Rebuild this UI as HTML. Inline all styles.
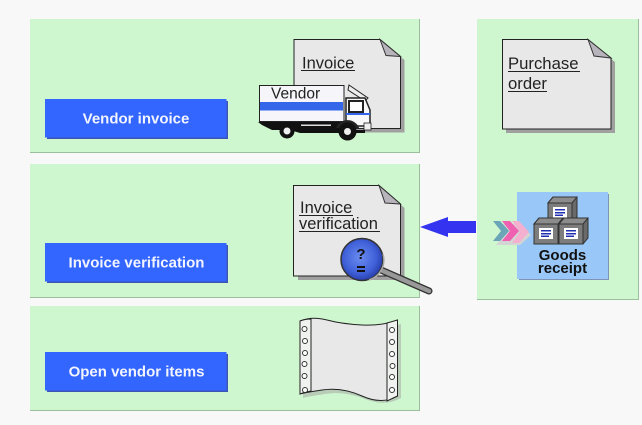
<!DOCTYPE html>
<html>
<head>
<meta charset="utf-8">
<style>
html,body{margin:0;padding:0;background:#f8f8f8;}
svg{display:block;}
text{font-family:"Liberation Sans",sans-serif;}
</style>
</head>
<body>
<svg width="642" height="425" viewBox="0 0 642 425" xmlns="http://www.w3.org/2000/svg">
<defs>
<radialGradient id="ball" cx="45%" cy="45%" r="60%">
  <stop offset="0" stop-color="#6a8cf0"/>
  <stop offset="0.65" stop-color="#3f5fd8"/>
  <stop offset="1" stop-color="#2236a0"/>
</radialGradient>
<g id="box">
  <path d="M0 0 L5 -6 H29 V14 L24 20 H0Z" fill="#6a6a6a" stroke="#333" stroke-width="1"/>
  <path d="M0 0 L5 -6 H29 L24 0Z" fill="#8c8c8c" stroke="#333" stroke-width="1"/>
  <rect x="0" y="0" width="24" height="20" fill="#7d7d7d" stroke="#333" stroke-width="1"/>
  <rect x="5" y="4" width="14" height="11" fill="#fff"/>
  <rect x="7" y="6" width="10" height="1.500" fill="#2030b0"/>
  <rect x="7" y="9" width="10" height="1.500" fill="#2030b0"/>
  <rect x="7" y="11.500" width="8" height="1.500" fill="#2030b0"/>
</g>
</defs>
<rect width="642" height="425" fill="#f8f8f8"/>

<!-- panels -->
<rect x="30" y="19" width="389" height="133.500" fill="#cff7cf"/>
<path d="M30 152.500H419.500V19" fill="none" stroke="#9bbf9b" stroke-width="1"/>
<rect x="30" y="164" width="389" height="133" fill="#cff7cf"/>
<path d="M30 297.500H419.500V164" fill="none" stroke="#9bbf9b" stroke-width="1"/>
<rect x="30" y="306" width="389" height="104" fill="#cff7cf"/>
<path d="M30 410.500H419.500V306" fill="none" stroke="#9bbf9b" stroke-width="1"/>
<rect x="477" y="19" width="161" height="280" fill="#cff7cf"/>
<path d="M477 299.500H638.500V19" fill="none" stroke="#9bbf9b" stroke-width="1"/>

<!-- buttons -->
<g>
  <rect x="47" y="101" width="181" height="38" fill="#3f55b5"/>
  <rect x="45" y="99" width="181.500" height="38.500" fill="#3366ff"/>
  <text x="136" y="123.500" font-size="15" font-weight="700" fill="#f2f4ff" text-anchor="middle">Vendor invoice</text>
  <rect x="47" y="245" width="181" height="38" fill="#3f55b5"/>
  <rect x="45" y="243" width="181.500" height="38.500" fill="#3366ff"/>
  <text x="136.500" y="267.500" font-size="15" font-weight="700" fill="#f2f4ff" text-anchor="middle">Invoice verification</text>
  <rect x="47" y="354" width="181" height="38" fill="#3f55b5"/>
  <rect x="45" y="352" width="181.500" height="38.500" fill="#3366ff"/>
  <text x="136.500" y="376.500" font-size="15" font-weight="700" fill="#f2f4ff" text-anchor="middle">Open vendor items</text>
</g>

<!-- Invoice doc -->
<path d="M298 43H384L404.500 60V132.500H298Z" fill="#a0a0a0"/>
<path d="M294 39.500H380L400.500 56.500V128.500H294Z" fill="#e8e8e8" stroke="#222" stroke-width="1"/>
<path d="M380 39.500L386 55.500L400.500 56.500Z" fill="#b8b4bc" stroke="#333" stroke-width="1"/>
<text x="302" y="68.500" font-size="16.500" fill="#222">Invoice</text>
<rect x="301" y="70" width="54" height="1" fill="#222"/>

<!-- Truck -->
<g>
  <rect x="259.500" y="85.500" width="84.500" height="36" fill="#f6f6fa" stroke="#222" stroke-width="1"/>
  <rect x="260" y="102" width="83" height="8.500" fill="#3366e8"/>
  <text x="271" y="98.500" font-size="15.500" fill="#222">Vendor</text>
  <path d="M349 85L368 98L365 101L348 90Z" fill="#eee" stroke="#222" stroke-width="1"/>
  <path d="M346 98H365L370 110V126H346Z" fill="#f8f8f8" stroke="#222" stroke-width="1.500"/>
  <rect x="349" y="101" width="14" height="11" fill="#fff" stroke="#222" stroke-width="2"/>
  <rect x="346" y="113" width="24" height="2" fill="#3366e8"/>
  <rect x="364" y="123" width="7" height="7" fill="#f0f0f0" stroke="#222" stroke-width="0.800"/>
  <path d="M258 122H346V130H365V133H300L290 130H272L262 125Z" fill="#111"/>
  <rect x="301" y="124.500" width="30" height="1.500" fill="#ddd"/>
  <circle cx="287" cy="131" r="7.500" fill="#111"/>
  <circle cx="287" cy="131" r="3.500" fill="#eee"/>
  <path d="M336 128 a12 11 0 0 1 23 0Z" fill="#222"/>
  <circle cx="347.500" cy="131.500" r="9" fill="#111"/>
  <circle cx="347.500" cy="131.500" r="3.500" fill="#eee"/>
</g>

<!-- Invoice verification doc -->
<path d="M298 189H384L404.500 208V280H298Z" fill="#a0a0a0"/>
<path d="M293.500 185.500H379L400.500 204V276H293.500Z" fill="#e8e8e8" stroke="#222" stroke-width="1"/>
<path d="M379 185.500L385 203L400.500 204Z" fill="#b8b4bc" stroke="#333" stroke-width="1"/>
<text x="300" y="213" font-size="16.500" fill="#222">Invoice</text>
<rect x="299" y="215" width="54" height="1" fill="#222"/>
<text x="299" y="229" font-size="16.500" fill="#222">verification</text>
<rect x="299" y="231" width="81" height="1" fill="#222"/>
<!-- magnifier -->
<path d="M381 270L429 291" stroke="#333" stroke-width="7" stroke-linecap="round"/>
<path d="M381 270L429 291" stroke="#999" stroke-width="4.500" stroke-linecap="round"/>
<circle cx="362" cy="259.500" r="21" fill="url(#ball)" stroke="#333" stroke-width="1.500"/>
<path d="M383 254 A21 21 0 0 1 369 280" fill="none" stroke="#aaa" stroke-width="1.500"/>
<text x="361" y="259" font-size="15" font-weight="700" fill="#111" text-anchor="middle">?</text>
<rect x="357" y="266" width="8" height="2" fill="#111"/>
<rect x="357" y="270" width="8" height="2" fill="#111"/>

<!-- Purchase order doc -->
<path d="M506 43H592L615 62V133H506Z" fill="#a0a0a0"/>
<path d="M502.500 39.500H588L611 58V129H502.500Z" fill="#e8e8e8" stroke="#222" stroke-width="1"/>
<path d="M588 39.500L594 56L611 58Z" fill="#b8b4bc" stroke="#333" stroke-width="1"/>
<text x="508" y="69" font-size="16.700" fill="#222">Purchase</text>
<rect x="508" y="71" width="72" height="1" fill="#222"/>
<text x="508" y="89" font-size="16.700" fill="#222">order</text>
<rect x="508" y="91" width="39" height="1" fill="#222"/>

<!-- blue arrow -->
<path d="M420 227 L448 217 V221 H476 V233 H448 V237Z" fill="#3333f0"/>

<!-- goods receipt -->
<rect x="519" y="194" width="90" height="86" fill="#7f93b5"/>
<rect x="517" y="192" width="91" height="87" fill="#99c8f8"/>
<use href="#box" x="548" y="203"/>
<use href="#box" x="534" y="224"/>
<use href="#box" x="559" y="224"/>
<text x="562.500" y="260" font-size="15" font-weight="700" fill="#111" text-anchor="middle">Goods</text>
<text x="562.500" y="273" font-size="15" font-weight="700" fill="#111" text-anchor="middle">receipt</text>

<!-- chevrons -->
<path d="M496 224H520L531 235L520 245H496L504 235Z" fill="#d4d4d4"/>
<path d="M512 221H519L529 232L519 243H512L520 232Z" fill="#f5b0d0"/>
<path d="M502 221H510L519 231L510 241H502L510 231Z" fill="#f060b0"/>
<path d="M493 221H500L509 231L500 241H493L501 231Z" fill="#6aa5b8"/>

<!-- continuous paper -->
<path d="M303 324 Q315 319 330 323 T365 328 T401 324 V398 Q385 407 365 399 T325 394 T303 398Z" fill="#b8ccb8"/>
<path d="M300 321 Q312 316 327 320 T362 325 T397.500 320 V396 Q382 405 362 396 T322 390 T300 394Z" fill="#e8e8e8" stroke="#222" stroke-width="1"/>
<path d="M300 321 Q305 319 311 319V391 Q305 392 300 394Z" fill="#f0f2f0" stroke="#222" stroke-width="1"/>
<path d="M387 323 L397.500 320 V396 L387 401Z" fill="#f0f2f0" stroke="#222" stroke-width="1"/>
<g fill="#fff" stroke="#333" stroke-width="1">
  <circle cx="304.500" cy="329" r="2.500"/><circle cx="305" cy="341" r="2.500"/><circle cx="305" cy="353" r="2.500"/><circle cx="304.500" cy="364" r="2.500"/><circle cx="304.500" cy="376" r="2.500"/><circle cx="305" cy="390" r="2.500"/>
  <circle cx="392" cy="330" r="2.500"/><circle cx="392" cy="342" r="2.500"/><circle cx="392" cy="354" r="2.500"/><circle cx="392.500" cy="366" r="2.500"/><circle cx="392" cy="377" r="2.500"/><circle cx="392" cy="390" r="2.500"/>
</g>
</svg>
</body>
</html>
